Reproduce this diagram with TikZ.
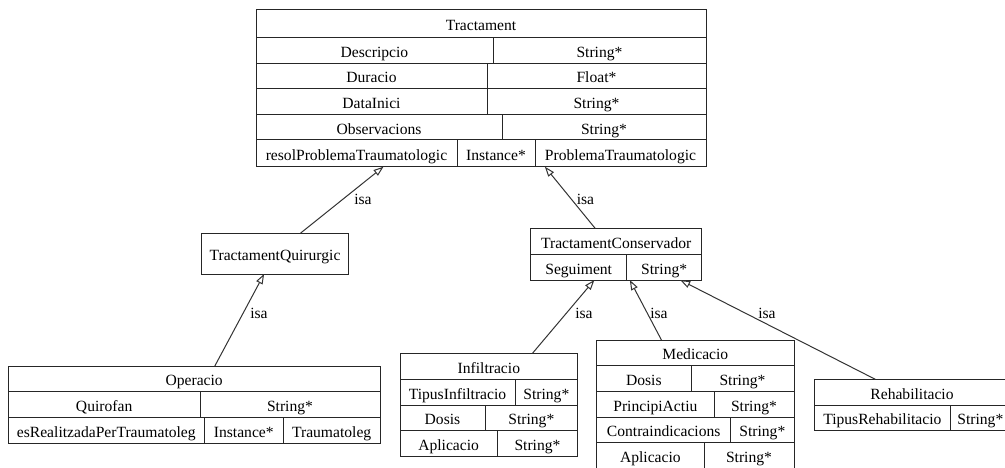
\documentclass[tikz,border=0pt]{standalone}
\usepackage{fontspec}
\setmainfont{Liberation Serif}
\usetikzlibrary{arrows.meta}

% one unit = 1pt, y grows downwards
\tikzset{
  x=1pt, y=-1pt,
  box/.style={draw=black!85, line width=1pt, inner sep=0pt, outer sep=0pt},
  sep/.style={draw=black!85, line width=1pt},
  txt/.style={inner sep=0pt, anchor=base, font=\fontsize{15.6}{18}\selectfont},
  isa/.style={draw=black!80, line width=1pt,
              -{Triangle[open, length=10pt, width=7pt]}},
}

% \recbox{name}{x1}{y1}{x2}{y2}
\newcommand\recbox[5]{%
  \node[box, minimum width={(#4-#2)*1pt}, minimum height={(#5-#3)*1pt}]
    (#1) at ({(#2+#4)/2},{(#3+#5)/2}) {};}
% \celltext{name}{x}{row centre}{text}
\newcommand\celltext[4]{\node[txt] (#1) at (#2,{#3+6.9}) {#4};}

\begin{document}
\begin{tikzpicture}
\useasboundingbox (0,0) rectangle (1005,468);

% ---------- Tractament ----------
\recbox{trac}{256}{10}{706}{166.7}
\foreach \y in {37.7,63.3,88.3,115,140} \draw[sep] (256,\y) -- (706,\y);
\draw[sep] (493,37.7) -- (493,63.3);
\draw[sep] (487,63.3) -- (487,88.3);
\draw[sep] (487,88.3) -- (487,115);
\draw[sep] (502,115) -- (502,140);
\draw[sep] (457,140) -- (457,166.7);
\draw[sep] (535,140) -- (535,166.7);
\celltext{tracT}{481}{23.85}{Tractament}
\celltext{tracA1}{374.5}{50.5}{Descripcio}
\celltext{tracB1}{599.5}{50.5}{String*}
\celltext{tracA2}{371.5}{75.8}{Duracio}
\celltext{tracB2}{596.5}{75.8}{Float*}
\celltext{tracA3}{371.5}{101.65}{DataInici}
\celltext{tracB3}{596.5}{101.65}{String*}
\celltext{tracA4}{379}{127.5}{Observacions}
\celltext{tracB4}{604}{127.5}{String*}
\celltext{tracA5}{356.5}{153.35}{resolProblemaTraumatologic}
\celltext{tracB5}{496}{153.35}{Instance*}
\celltext{tracC5}{620.5}{153.35}{ProblemaTraumatologic}

% ---------- TractamentQuirurgic ----------
\recbox{tq}{201.7}{233.3}{348.3}{274}
\celltext{tqT}{275}{253.65}{TractamentQuirurgic}

% ---------- TractamentConservador ----------
\recbox{tc}{530.7}{228.3}{701.7}{280}
\draw[sep] (530.7,254.3) -- (701.7,254.3);
\draw[sep] (626.7,254.3) -- (626.7,280);
\celltext{tcT}{616.2}{241.3}{TractamentConservador}
\celltext{tcA1}{578.7}{267.15}{Seguiment}
\celltext{tcB1}{664.2}{267.15}{String*}

% ---------- Operacio ----------
\recbox{oper}{8.3}{366}{380}{443.3}
\draw[sep] (8.3,391.7) -- (380,391.7);
\draw[sep] (8.3,417.3) -- (380,417.3);
\draw[sep] (200,391.7) -- (200,417.3);
\draw[sep] (204.3,417.3) -- (204.3,443.3);
\draw[sep] (283.3,417.3) -- (283.3,443.3);
\celltext{operT}{194.15}{378.85}{Operacio}
\celltext{operA1}{104.15}{404.5}{Quirofan}
\celltext{operB1}{290}{404.5}{String*}
\celltext{operA2}{106.3}{430.3}{esRealitzadaPerTraumatoleg}
\celltext{operB2}{243.8}{430.3}{Instance*}
\celltext{operC2}{331.65}{430.3}{Traumatoleg}

% ---------- Infiltracio ----------
\recbox{infi}{400}{353.3}{577.7}{456.7}
\foreach \y in {379.3,405,430.7} \draw[sep] (400,\y) -- (577.7,\y);
\draw[sep] (515,379.3) -- (515,405);
\draw[sep] (485,405) -- (485,430.7);
\draw[sep] (497.3,430.7) -- (497.3,456.7);
\celltext{infiT}{488.85}{366.3}{Infiltracio}
\celltext{infiA1}{457.5}{392.15}{TipusInfiltracio}
\celltext{infiB1}{546.35}{392.15}{String*}
\celltext{infiA2}{442.5}{417.85}{Dosis}
\celltext{infiB2}{531.35}{417.85}{String*}
\celltext{infiA3}{448.65}{443.7}{Aplicacio}
\celltext{infiB3}{537.5}{443.7}{String*}

% ---------- Medicacio ----------
\recbox{medi}{596.7}{340}{794}{468.7}
\foreach \y in {365.7,391.4,417,442.7} \draw[sep] (596.7,\y) -- (794,\y);
\draw[sep] (691,365.7) -- (691,391.4);
\draw[sep] (714,391.4) -- (714,417);
\draw[sep] (730.7,417) -- (730.7,442.7);
\draw[sep] (704,442.7) -- (704,468.7);
\celltext{mediT}{695.35}{352.85}{Medicacio}
\celltext{mediA1}{643.85}{378.55}{Dosis}
\celltext{mediB1}{742.5}{378.55}{String*}
\celltext{mediA2}{655.35}{404.2}{PrincipiActiu}
\celltext{mediB2}{754}{404.2}{String*}
\celltext{mediA3}{663.7}{429.85}{Contraindicacions}
\celltext{mediB3}{762.35}{429.85}{String*}
\celltext{mediA4}{650.35}{455.7}{Aplicacio}
\celltext{mediB4}{749}{455.7}{String*}

% ---------- Rehabilitacio ----------
\recbox{rehab}{814}{379.3}{1010}{430.7}
\draw[sep] (814,405) -- (1010,405);
\draw[sep] (950.7,405) -- (950.7,430.7);
\celltext{rehabT}{912}{392.15}{Rehabilitacio}
\celltext{rehabA1}{882.35}{417.85}{TipusRehabilitacio}
\celltext{rehabB1}{980.35}{417.85}{String*}

% ---------- isa links ----------
\draw[isa] (tq) -- (trac);
\draw[isa] (tc) -- (trac);
\draw[isa] (oper) -- (tq);
\draw[isa] (infi) -- (tc);
\draw[isa] (medi) -- (tc);
\draw[isa] (rehab.145.93) -- (tc.-22.6);

\node[txt] (l1) at (363,205) {isa};
\node[txt] (l2) at (585.5,205) {isa};
\node[txt] (l3) at (259,318) {isa};
\node[txt] (l4) at (584,318) {isa};
\node[txt] (l5) at (659,318) {isa};
\node[txt] (l6) at (767,318) {isa};
\end{tikzpicture}
\end{document}
